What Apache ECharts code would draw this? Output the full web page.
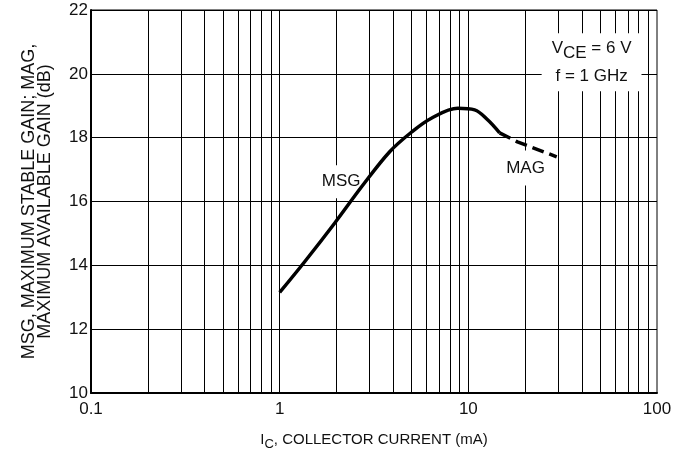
<!DOCTYPE html>
<html><head><meta charset="utf-8">
<script src="https://cdn.jsdelivr.net/npm/echarts@6/dist/echarts.min.js"></script>
<style>html,body{margin:0;padding:0;background:#fff}#c{width:689px;height:457px}</style>
</head><body><div id="c"></div>
<script>
// Data
const msgX = [1, 1.36, 1.955, 2.75, 3.83, 4.99, 6.37, 8.8, 10.8, 12.65, 14.65];
const msgY = [13.15, 14.12, 15.32, 16.5, 17.56, 18.17, 18.61, 18.92, 18.87, 18.56, 18.15];
const magX = [14.65, 18.2, 29.4];
const magY = [18.15, 17.87, 17.4];
const xMinorGrid = [0.2,0.3,0.4,0.5,0.6,0.7,0.8,0.9,1,2,3,4,5,6,7,8,9,10,20,30,40,50,60,70,80,90];
const yTicks = [10, 12, 14, 16, 18, 20, 22];

const FONT = '"Liberation Sans",Arial,sans-serif';
const TXT = '#111';
const chart = echarts.init(document.getElementById('c'));
chart.setOption({
  animation: false,
  grid: {left: 91, right: 32, top: 10, bottom: 64, show: true, borderColor: '#000', borderWidth: 1},
  xAxis: {
    type: 'log', logBase: 10, min: 0.1, max: 100,
    axisLine: {show: true, lineStyle: {color: '#000', width: 2}},
    axisTick: {show: false},
    splitLine: {show: false},
    axisLabel: {color: TXT, fontSize: 17, fontFamily: FONT, margin: 8,
      formatter: v => String(v)},
    name: '{n|I}{s|C}{n|, COLLECTOR CURRENT (mA)}',
    nameLocation: 'middle', nameGap: 35,
    nameTextStyle: {rich: {
      n: {fontSize: 15, fontFamily: FONT, color: TXT},
      s: {fontSize: 13, fontFamily: FONT, color: TXT, padding: [10,0,0,0]}
    }}
  },
  yAxis: {
    type: 'value', min: yTicks[0], max: yTicks[yTicks.length-1], interval: 2,
    axisLine: {show: true, lineStyle: {color: '#000', width: 2}},
    axisTick: {show: false},
    splitLine: {show: true, lineStyle: {color: '#000', width: 1}},
    axisLabel: {color: TXT, fontSize: 17, fontFamily: FONT, margin: 3},
    name: 'MSG, MAXIMUM STABLE GAIN; MAG,\nMAXIMUM AVAILABLE GAIN (dB)',
    nameLocation: 'middle', nameGap: 38,
    nameTextStyle: {fontSize: 18, fontFamily: FONT, color: TXT, lineHeight: 16}
  },
  series: [
    {
      type: 'line', data: [], silent: true,
      markLine: {
        silent: true, symbol: 'none', animation: false, label: {show: false}, z: 1,
        lineStyle: {color: '#000', width: 1, type: 'solid'},
        data: xMinorGrid.map(v => ({xAxis: v}))
      }
    },
    {
      type: 'line', data: msgX.map((x,i)=>[x, msgY[i]]), smooth: 0.35, showSymbol: false,
      lineStyle: {color: '#000', width: 3.5}, z: 6,
      markPoint: {
        symbolSize: 0, z: 3, silent: true,
        data: [
          {coord: [2.12, 16.62], label: {show: true, formatter: 'MSG', fontSize: 17, fontFamily: FONT, color: TXT,
            backgroundColor: '#fff', padding: [8, 4, 8, 4], position: 'inside'}},
          {coord: [20.1, 17.05], label: {show: true, formatter: 'MAG', fontSize: 17, fontFamily: FONT, color: TXT,
            backgroundColor: '#fff', padding: [10, 4, 8, 4], position: 'inside'}},
          {coord: [45, 20.36], label: {show: true, position: 'inside',
            formatter: '{n|V}{s|CE}{n| = 6 V}\n{n|f = 1 GHz}',
            backgroundColor: '#fff', padding: [1, 10, 1, 10],
            rich: {
              n: {fontSize: 17, fontFamily: FONT, color: TXT, lineHeight: 28},
              s: {fontSize: 17, fontFamily: FONT, color: TXT, lineHeight: 28, padding: [9,0,0,0]}
            }}}
        ]
      }
    },
    {
      type: 'line', data: magX.map((x,i)=>[x, magY[i]]), smooth: false, showSymbol: false,
      lineStyle: {color: '#000', width: 3.5, type: [12, 6]}, z: 6
    }
  ]
});
</script></body></html>
